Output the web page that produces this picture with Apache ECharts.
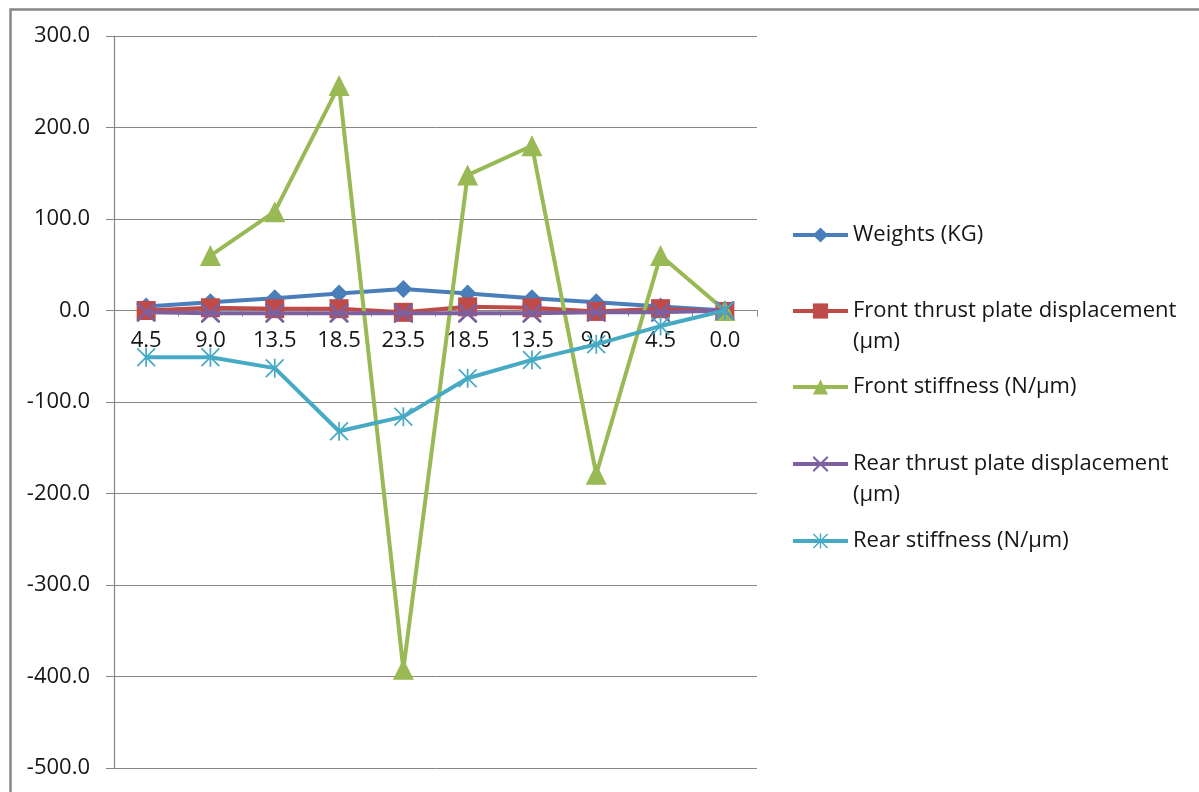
<!DOCTYPE html>
<html>
<head>
<meta charset="utf-8">
<style>
  html, body { margin: 0; padding: 0; background: #fff; }
  #chart { width: 1199px; height: 792px; }
</style>
<script src="https://cdn.jsdelivr.net/npm/echarts@6/dist/echarts.min.js"></script>
</head>
<body>
<div id="chart"></div>
<script>
// Load steps along the x axis (kg), loading then unloading
const categories = ['4.5', '9.0', '13.5', '18.5', '23.5', '18.5', '13.5', '9.0', '4.5', '0.0'];

const weights = [4.5, 9.0, 13.5, 18.5, 23.5, 18.5, 13.5, 9.0, 4.5, 0.0];
const frontDisplacement = [0, 3, 2, 2, -2, 4, 3, -1, 2, -1];
const frontStiffness = [null, 60, 108, 246, -392, 148, 180, -179, 60, 0];
const rearDisplacement = [-2, -3, -3, -3, -3, -3, -3, -2, -2, 0];
const rearStiffness = [-51, -51, -63, -132, -116, -74, -54, -37, -17, 0];

const yTicks = { min: -500, max: 300, step: 100 };

const FONT = '"Open Sans", "Noto Sans", sans-serif';
const TEXT = '#161616';
const AXIS = '#868686';
const FS = 22;
const LH = 31;

const GRID = { left: 114, right: 442, top: 36, bottom: 24 };
const PLOT_H = 792 - GRID.top - GRID.bottom;

const xMark = 'path://M0,0 L2,0 L10,8 L18,0 L20,0 L20,2 L12,10 L20,18 L20,20 L18,20 L10,12 L2,20 L0,20 L0,18 L8,10 L0,2 Z';
const starMark = 'path://M9.1,0 H10.9 V20 H9.1 Z M0,1.3 L1.3,0 L20,18.7 L18.7,20 Z M18.7,0 L20,1.3 L1.3,20 L0,18.7 Z';

const seriesDefs = [
  { name: 'Weights (KG)', data: weights, color: '#4A7EBB', symbol: 'diamond', size: 18 },
  { name: 'Front thrust plate displacement\n(µm)', data: frontDisplacement, color: '#BE4B48', symbol: 'rect', size: 19 },
  { name: 'Front stiffness (N/µm)', data: frontStiffness, color: '#98B954', symbol: 'triangle', size: 21 },
  { name: 'Rear thrust plate displacement\n(µm)', data: rearDisplacement, color: '#7D60A0', symbol: xMark, size: 19 },
  { name: 'Rear stiffness (N/µm)', data: rearStiffness, color: '#46AAC5', symbol: starMark, size: 19 }
];

// one legend block per series so each entry sits at its own height;
// wrapped names get a leading blank line so the icon lines up with their first line
const legendCentres = [235, 311, 387, 464, 541];
const legends = seriesDefs.map((s, i) => {
  const twoLine = s.name.indexOf('\n') >= 0;
  return {
    data: [s.name],
    left: 791,
    top: legendCentres[i] - (twoLine ? 1.5 * LH : LH / 2),
    orient: 'vertical',
    padding: 0,
    itemWidth: 55,
    itemHeight: 19,
    itemGap: 0,
    formatter: name => (twoLine ? '\n' + name : name),
    lineStyle: { width: 4 },
    textStyle: { fontFamily: FONT, fontSize: FS, color: TEXT, lineHeight: LH }
  };
});

const chart = echarts.init(document.getElementById('chart'), null, { renderer: 'canvas' });
chart.setOption({
  animation: false,
  backgroundColor: '#ffffff',
  graphic: [{
    type: 'rect',
    left: 8, top: 7,
    shape: { width: 1400, height: 1000 },
    style: { fill: 'none', stroke: '#878787', lineWidth: 2.5 },
    silent: true
  }],
  grid: Object.assign({ containLabel: false, outerBoundsMode: 'none' }, GRID),
  legend: legends,
  xAxis: {
    type: 'category',
    data: categories,
    boundaryGap: true,
    position: 'bottom',
    // category axis runs along the zero line
    offset: -PLOT_H * (0 - yTicks.min) / (yTicks.max - yTicks.min),
    axisLine: { onZero: false, lineStyle: { color: AXIS, width: 1.2 } },
    axisTick: { show: true, length: 6, alignWithLabel: false, lineStyle: { color: AXIS } },
    axisLabel: { margin: 19, fontFamily: FONT, fontSize: FS, color: TEXT, interval: 0 },
    splitLine: { show: false }
  },
  yAxis: {
    type: 'value',
    min: yTicks.min, max: yTicks.max, interval: yTicks.step,
    axisLine: { show: true, lineStyle: { color: AXIS, width: 1.2 } },
    axisTick: { show: true, length: 8, lineStyle: { color: AXIS } },
    axisLabel: { margin: 24, fontFamily: FONT, fontSize: FS, color: TEXT,
      formatter: v => v.toFixed(1) },
    splitLine: { show: true, lineStyle: { color: AXIS, width: 1 } }
  },
  series: seriesDefs.map((s, i) => ({
    name: s.name,
    type: 'line',
    data: s.data,
    connectNulls: false,
    symbol: s.symbol,
    symbolSize: s.size,
    showAllSymbol: true,
    z: 2 + i,
    lineStyle: { color: s.color, width: 4 },
    itemStyle: { color: s.color, borderColor: s.color, borderWidth: 0, opacity: 1 }
  }))
});
</script>
</body>
</html>
